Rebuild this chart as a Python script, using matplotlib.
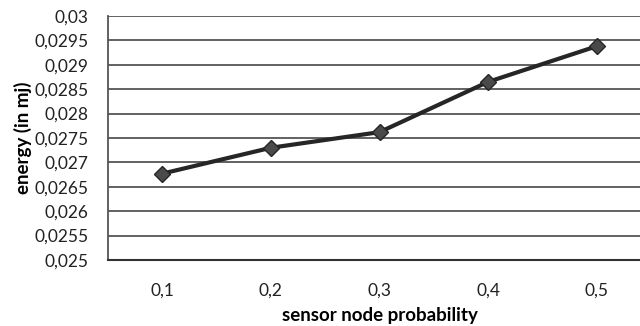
import matplotlib
matplotlib.use("Agg")
import matplotlib.pyplot as plt

categories = ["0,1", "0,2", "0,3", "0,4", "0,5"]
energy = [0.02677, 0.02730, 0.02762, 0.02865, 0.02938]
yticks = [0.025, 0.0255, 0.026, 0.0265, 0.027, 0.0275, 0.028, 0.0285, 0.029, 0.0295, 0.03]
ytick_labels = ["0,025", "0,0255", "0,026", "0,0265", "0,027", "0,0275", "0,028",
                "0,0285", "0,029", "0,0295", "0,03"]

plt.rcParams['font.family'] = ['Lato', 'DejaVu Sans']

fig = plt.figure(figsize=(6.4, 3.26), dpi=100)
ax = fig.add_axes([108/640, 1-260/326, 543/640, 244/326])

x = list(range(len(categories)))
ax.plot(x, energy, color="#262626", lw=3, marker="D", markersize=8,
        markerfacecolor="#4a4a4a", markeredgecolor="#262626", markeredgewidth=1, zorder=3)

ax.set_xlim(-0.5, len(categories) - 0.5)
ax.set_ylim(0.025, 0.03)
ax.set_xticks(x)
ax.set_xticklabels(categories, fontsize=12.5, color="#222222")
ax.set_yticks(yticks)
ax.set_yticklabels(ytick_labels, fontsize=12.5, color="#222222")
ax.tick_params(axis='y', length=0, pad=14)
ax.tick_params(axis='x', length=0, pad=16)

ax.grid(axis='y', color="#555555", lw=1.3)
ax.set_axisbelow(True)
for s in ["top", "right"]:
    ax.spines[s].set_visible(False)
ax.spines["left"].set_color("#555555")
ax.spines["left"].set_linewidth(1.3)
ax.spines["bottom"].set_color("#333333")
ax.spines["bottom"].set_linewidth(1.5)

ax.set_xlabel("sensor node probability", fontsize=13.5, fontweight="bold", labelpad=6)
ax.set_ylabel("energy (in mj)", fontsize=13.5, fontweight="bold", labelpad=2)

fig.savefig("out.png", dpi=100)
